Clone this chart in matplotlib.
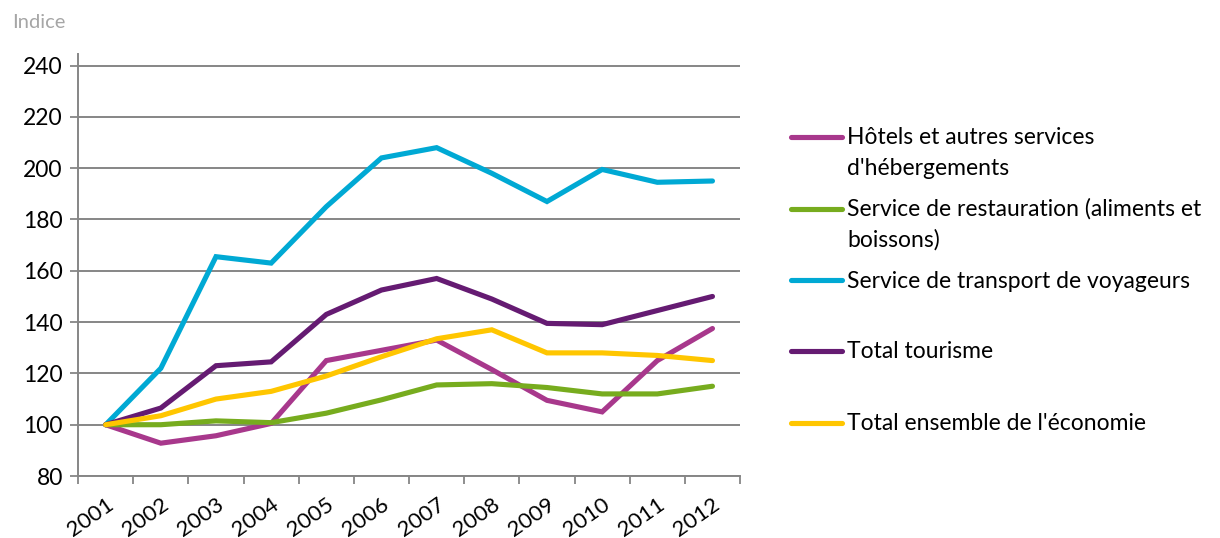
import numpy as np
import matplotlib
matplotlib.use("Agg")
import matplotlib.pyplot as plt
from matplotlib.lines import Line2D

plt.rcParams["font.family"] = ["Lato", "DejaVu Sans"]

years = ["2001", "2002", "2003", "2004", "2005", "2006",
         "2007", "2008", "2009", "2010", "2011", "2012"]

hotels = [100, 92.8, 95.7, 100.5, 125, 129, 133, 121.5, 109.5, 105, 125, 137.5]
restauration = [100, 100, 101.5, 100.8, 104.5, 109.7, 115.5, 116, 114.5, 112, 112, 115]
transport = [100, 122, 165.5, 163, 185, 204, 208, 198, 187, 199.5, 194.5, 195]
tourisme = [100, 106.5, 123, 124.5, 143, 152.5, 157, 149, 139.5, 139, 144.5, 150]
economie = [100, 103.5, 110, 113, 119, 126.5, 133.5, 137, 128, 128, 127, 125]

labels = [
    "Hôtels et autres services\nd'hébergements",
    "Service de restauration (aliments et\nboissons)",
    "Service de transport de voyageurs",
    "Total tourisme",
    "Total ensemble de l'économie",
]
series = [hotels, restauration, transport, tourisme, economie]
colors = ["#A8388C", "#77AC1E", "#00A9D4", "#651B72", "#FFC600"]

FS = 16.5

fig = plt.figure(figsize=(12.2, 5.38), dpi=100)
ax = fig.add_axes([0.064, 0.1152, 0.5426, 0.7844])

x = np.arange(1, len(years) + 1)
for vals, col in zip(series, colors):
    ax.plot(x, vals, color=col, linewidth=3.7, solid_capstyle="round",
            solid_joinstyle="miter")

grid_col = "#868686"
ax.set_ylim(80, 244.5)
ax.set_yticks(np.arange(80, 241, 20))
ax.set_xlim(0.5, len(years) + 0.5)
ax.set_xticks(x)
ax.set_xticklabels(years, rotation=35, ha="right", va="top",
                   rotation_mode="anchor", fontsize=16)
ax.set_xticks(np.arange(0.5, len(years) + 1, 1), minor=True)
ax.tick_params(axis="x", which="major", length=0, pad=13)
ax.tick_params(axis="x", which="minor", length=6, width=1.3, color=grid_col)
ax.tick_params(axis="y", length=6, width=1.3, color=grid_col, labelsize=FS, pad=5)
ax.yaxis.grid(True, color=grid_col, linewidth=1.4)
ax.set_axisbelow(True)
for s in ["top", "right"]:
    ax.spines[s].set_visible(False)
for s in ["left", "bottom"]:
    ax.spines[s].set_color(grid_col)
    ax.spines[s].set_linewidth(1.4)

fig.text(12 / 1220, 1 - 22 / 538, "Indice", fontsize=14.5, color="#A6A6A6",
         va="center", ha="left")

# legend drawn by hand (handles sit on the first text line, like the source)
leg_y = [136.5, 208.5, 280, 351, 423]
line_gap = 31
for lab, col, yy in zip(labels, colors, leg_y):
    yf = 1 - yy / 538
    fig.add_artist(Line2D([791 / 1220, 842 / 1220], [yf, yf], color=col,
                          linewidth=3.7, solid_capstyle="round",
                          transform=fig.transFigure))
    for i, part in enumerate(lab.split("\n")):
        fig.text(847 / 1220, 1 - (yy + 7.5 + i * line_gap) / 538, part,
                 fontsize=FS, va="baseline", ha="left")

fig.savefig("out.png", dpi=100)
